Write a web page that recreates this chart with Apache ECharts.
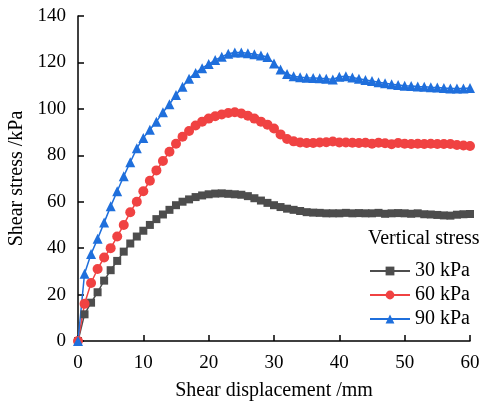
<!DOCTYPE html>
<html>
<head>
<meta charset="utf-8">
<script src="https://cdn.jsdelivr.net/npm/echarts@6/dist/echarts.min.js"></script>
<style>
  html, body { margin: 0; padding: 0; background: #fff; }
  #chart { width: 489px; height: 405px; }
</style>
</head>
<body>
<div id="chart"></div>
<script>
// shear displacement in mm, one reading per mm
const displacement = [];
for (let i = 0; i <= 60; i++) displacement.push(i);

const stress30 = [0, 11.5, 16.5, 21, 26, 30.5, 34.5, 38.5, 42, 45, 47.5, 50, 52.5, 54.5, 56.5, 58.5, 60, 61, 62, 62.7,
  63.2, 63.5, 63.6, 63.4, 63.2, 63, 62.4, 61.5, 60.5, 59.5, 58.5, 57.7, 57, 56.5, 56, 55.5, 55.3, 55.2, 55, 55,
  55, 55.2, 55, 55.1, 55, 55, 55.2, 54.8, 55, 55.1, 55, 54.8, 55, 54.6, 54.5, 54.3, 54.1, 54, 54.4, 54.6, 54.7];

const stress60 = [0, 16, 25, 31, 36, 40, 45, 50, 55.5, 60, 64.5, 69, 73.5, 77.5, 81.5, 85, 88, 90.5, 92.8, 94.5,
  95.8, 96.8, 97.6, 98.2, 98.5, 98, 97, 95.8, 94.5, 93.2, 91.5, 89, 87, 86, 85.5, 85.3, 85.3, 85.5, 85.6, 85.9,
  85.5, 85.5, 85.4, 85.3, 85.4, 85, 85.4, 85.2, 84.8, 85.3, 85, 84.9, 85, 84.9, 85, 84.9, 84.9, 84.9, 84.4, 84.2, 84];

const stress90 = [0, 29, 37.5, 44, 51, 58, 64.5, 71, 77, 83, 87.5, 91, 94.5, 98.5, 102, 106, 109.5, 113, 115.5, 117.5,
  119.3, 121, 122.5, 123.7, 124.3, 124.3, 124, 123.5, 123, 122.3, 119.5, 117, 115, 114, 113.6, 113.4, 113.3, 113.2, 113, 112.7,
  113.8, 114, 113.5, 113, 112.4, 112, 111.5, 111, 110.6, 110.3, 110, 109.8, 109.6, 109.5, 109.3, 109.2, 109, 108.8, 108.8, 108.8, 109];

const seriesNames = ['30 kPa', '60 kPa', '90 kPa'];
const seriesColors = ['#4d4d4d', '#f04242', '#1f6fdc'];
const seriesSymbols = ['rect', 'circle', 'triangle'];
const seriesSizes = [8, 10, 10];
const seriesData = [stress30, stress60, stress90];

const font = 'Liberation Serif, Times New Roman, serif';

const chart = echarts.init(document.getElementById('chart'));

const option = {
  animation: false,
  textStyle: { fontFamily: font },
  grid: { left: 78, right: 19, top: 16, bottom: 64, outerBoundsMode: 'none' },
  graphic: [{
    type: 'text',
    left: 368,
    top: 229,
    style: { text: 'Vertical stress', font: '20px ' + font, fill: '#000' }
  }],
  legend: {
    orient: 'vertical',
    left: 364,
    top: 256,
    itemWidth: 40,
    itemHeight: 11,
    itemGap: 4,
    textStyle: { fontFamily: font, fontSize: 20, color: '#000' },
    data: seriesNames
  },
  xAxis: {
    type: 'value',
    min: 0,
    max: 60,
    interval: 10,
    name: 'Shear displacement /mm',
    nameLocation: 'middle',
    nameGap: 40,
    nameTextStyle: { fontFamily: font, fontSize: 20, color: '#000' },
    axisLine: { lineStyle: { color: '#000', width: 1.5 } },
    axisTick: { inside: true, length: 6, lineStyle: { color: '#000', width: 1.5 } },
    axisLabel: { fontFamily: font, fontSize: 19, color: '#000', margin: 13 },
    splitLine: { show: false }
  },
  yAxis: {
    type: 'value',
    min: 0,
    max: 140,
    interval: 20,
    name: 'Shear stress /kPa',
    nameLocation: 'middle',
    nameGap: 48,
    nameTextStyle: { fontFamily: font, fontSize: 20, color: '#000' },
    axisLine: { show: true, lineStyle: { color: '#000', width: 1.5 } },
    axisTick: { show: true, inside: true, length: 6, lineStyle: { color: '#000', width: 1.5 } },
    axisLabel: { fontFamily: font, fontSize: 19, color: '#000', margin: 12 },
    splitLine: { show: false }
  },
  series: seriesNames.map((name, k) => ({
    name: name,
    type: 'line',
    data: displacement.map((x, i) => [x, seriesData[k][i]]),
    symbol: seriesSymbols[k],
    symbolSize: seriesSizes[k],
    showAllSymbol: true,
    color: seriesColors[k],
    lineStyle: { width: 1.5, color: seriesColors[k] },
    itemStyle: { color: seriesColors[k] }
  }))
};

chart.setOption(option);
</script>
</body>
</html>
